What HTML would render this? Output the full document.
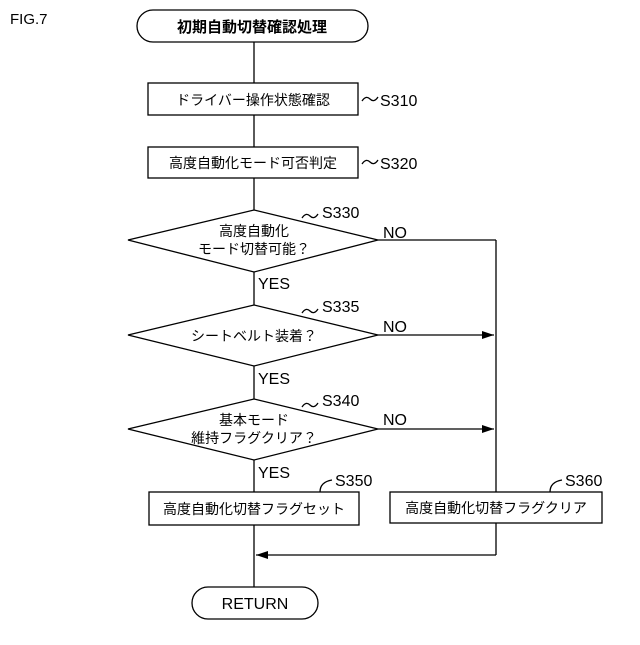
<!DOCTYPE html>
<html><head><meta charset="utf-8"><style>
body{margin:0;background:#fff}
svg text{font-family:"Liberation Sans","Noto Sans CJK JP",sans-serif;fill:#000}
</style></head><body>
<svg width="640" height="640" viewBox="0 0 640 640" xmlns="http://www.w3.org/2000/svg">
<defs><marker id="a" markerWidth="12" markerHeight="8" refX="12" refY="4" orient="auto" markerUnits="userSpaceOnUse"><path d="M0,0L12,4L0,8z" fill="#000"/></marker></defs>
<g stroke="#000" stroke-width="1.3" fill="none">
<rect x="137" y="10" width="231" height="32" rx="16"/>
<line x1="254" y1="42" x2="254" y2="83"/>
<rect x="148" y="83" width="210" height="32"/>
<line x1="254" y1="115" x2="254" y2="147"/>
<rect x="148" y="147" width="210" height="31"/>
<line x1="254" y1="178" x2="254" y2="210"/>
<polygon points="254,210 378,240 254,272 128,240"/>
<line x1="254" y1="272" x2="254" y2="305"/>
<polygon points="254,305 378,335 254,366 128,335"/>
<line x1="254" y1="366" x2="254" y2="399"/>
<polygon points="254,399 378,429 254,460 128,429"/>
<line x1="254" y1="460" x2="254" y2="492"/>
<rect x="149" y="492" width="210" height="33"/>
<rect x="390" y="492" width="212" height="31"/>
<line x1="378" y1="240" x2="496" y2="240"/>
<line x1="496" y1="240" x2="496" y2="492"/>
<line x1="378" y1="335" x2="494" y2="335" marker-end="url(#a)"/>
<line x1="378" y1="429" x2="494" y2="429" marker-end="url(#a)"/>
<line x1="496" y1="523" x2="496" y2="555"/>
<line x1="496" y1="555" x2="256" y2="555" marker-end="url(#a)"/>
<line x1="254" y1="525" x2="254" y2="587"/>
<rect x="192" y="587" width="126" height="32" rx="16"/>
<path d="M362,101 q4,-6 8,-2 t8,-2"/>
<path d="M362,164 q4,-6 8,-2 t8,-2"/>
<path d="M302,218 q4,-6 8,-2 t8,-2"/>
<path d="M302,313 q4,-6 8,-2 t8,-2"/>
<path d="M302,407 q4,-6 8,-2 t8,-2"/>
<path d="M320,492 q0,-10 12,-12"/>
<path d="M550,492 q0,-10 12,-12"/>
</g>
<text x="10" y="24" font-size="15">FIG.7</text>
<text x="252" y="32" font-size="15" text-anchor="middle" font-weight="bold">初期自動切替確認処理</text>
<text x="253" y="105" font-size="14" text-anchor="middle">ドライバー操作状態確認</text>
<text x="253" y="168" font-size="14" text-anchor="middle">高度自動化モード可否判定</text>
<text x="380" y="106" font-size="16">S310</text>
<text x="380" y="169" font-size="16">S320</text>
<text x="254" y="236" font-size="14" text-anchor="middle">高度自動化</text>
<text x="254" y="254" font-size="14" text-anchor="middle">モード切替可能？</text>
<text x="254" y="341" font-size="14" text-anchor="middle">シートベルト装着？</text>
<text x="254" y="425" font-size="14" text-anchor="middle">基本モード</text>
<text x="254" y="443" font-size="14" text-anchor="middle">維持フラグクリア？</text>
<text x="254" y="514" font-size="14" text-anchor="middle">高度自動化切替フラグセット</text>
<text x="496" y="513" font-size="14" text-anchor="middle">高度自動化切替フラグクリア</text>
<text x="322" y="218" font-size="16">S330</text>
<text x="322" y="312" font-size="16">S335</text>
<text x="322" y="406" font-size="16">S340</text>
<text x="335" y="486" font-size="16">S350</text>
<text x="565" y="486" font-size="16">S360</text>
<text x="383" y="238" font-size="16">NO</text>
<text x="383" y="332" font-size="16">NO</text>
<text x="383" y="425" font-size="16">NO</text>
<text x="258" y="289" font-size="16">YES</text>
<text x="258" y="384" font-size="16">YES</text>
<text x="258" y="478" font-size="16">YES</text>
<text x="255" y="609" font-size="16" text-anchor="middle">RETURN</text>
</svg>
</body></html>
